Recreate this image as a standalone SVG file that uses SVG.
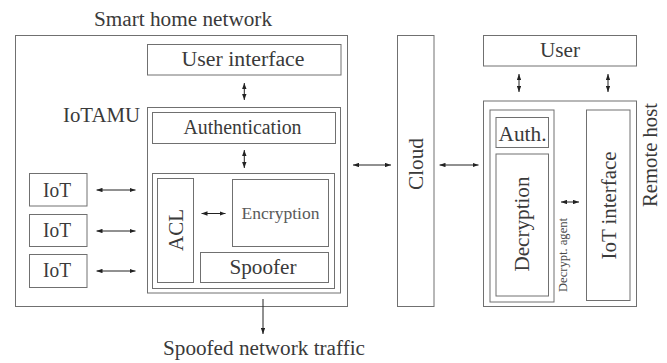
<svg xmlns="http://www.w3.org/2000/svg" width="667" height="363" viewBox="0 0 667 363">
<defs>
<style>
.box{fill:#fff;stroke:#707070;stroke-width:1}
text{font-family:'Liberation Serif','Times New Roman',Times,serif;font-size:20px;fill:#3a3a3a;text-anchor:middle}
.s{font-size:17px;fill:#5a5a5a}
.xs{font-size:12.5px;fill:#4a4a4a}
.a{stroke:#222;stroke-width:1;fill:none;marker-end:url(#ah)}
.d{marker-start:url(#ah)}
</style>
<marker id="ah" viewBox="0 0 6 4.4" refX="6" refY="2.2" markerWidth="6" markerHeight="4.4" markerUnits="userSpaceOnUse" orient="auto-start-reverse">
<path d="M0,0 L6,2.2 L0,4.4 z" fill="#222"/>
</marker>
</defs>
<rect width="667" height="363" fill="#fff"/>
<g font-family="Liberation Serif, serif">
<g id="smart-home">
<rect class="box" x="15.5" y="35.5" width="332" height="271"/>
<text x="183" y="26" textLength="178" lengthAdjust="spacingAndGlyphs">Smart home network</text>
</g>
<g id="user-interface">
<rect class="box" x="147.5" y="44.5" width="193.5" height="30.5"/>
<text x="243" y="66" textLength="123" lengthAdjust="spacingAndGlyphs">User interface</text>
</g>
<g id="iotamu">
<rect class="box" x="147.5" y="107.5" width="193" height="185.5"/>
<text x="101.5" y="122" textLength="77" lengthAdjust="spacingAndGlyphs">IoTAMU</text>
</g>
<g id="authentication">
<rect class="box" x="152.5" y="112.5" width="183" height="31"/>
<text x="242.5" y="134" textLength="118" lengthAdjust="spacingAndGlyphs">Authentication</text>
</g>
<g id="core">
<rect class="box" x="152.5" y="173.5" width="182" height="115"/>
</g>
<g id="acl">
<rect class="box" x="157.5" y="178.5" width="36" height="104"/>
<text transform="translate(175.5,230) rotate(-90)" x="0" y="7" textLength="42" lengthAdjust="spacingAndGlyphs">ACL</text>
</g>
<g id="encryption">
<rect class="box" x="232.5" y="179.5" width="96" height="67"/>
<text class="s" x="280.5" y="219" textLength="78" lengthAdjust="spacingAndGlyphs">Encryption</text>
</g>
<g id="spoofer">
<rect class="box" x="200.5" y="252.5" width="128" height="30"/>
<text x="263" y="274" textLength="67" lengthAdjust="spacingAndGlyphs">Spoofer</text>
</g>
<g id="iot1">
<rect class="box" x="29.5" y="173.5" width="57.5" height="32.5"/>
<text x="57" y="196.5" textLength="28" lengthAdjust="spacingAndGlyphs">IoT</text>
</g>
<g id="iot2">
<rect class="box" x="29.5" y="214.5" width="57.5" height="32"/>
<text x="57" y="237" textLength="28" lengthAdjust="spacingAndGlyphs">IoT</text>
</g>
<g id="iot3">
<rect class="box" x="29.5" y="254.5" width="57.5" height="33"/>
<text x="57" y="277" textLength="28" lengthAdjust="spacingAndGlyphs">IoT</text>
</g>
<g id="spoofed-traffic">
<text x="264" y="355" textLength="202" lengthAdjust="spacingAndGlyphs">Spoofed network traffic</text>
</g>
<g id="cloud">
<rect class="box" x="397.5" y="35.5" width="36.5" height="271"/>
<text transform="translate(416,164) rotate(-90)" x="0" y="7" textLength="52" lengthAdjust="spacingAndGlyphs">Cloud</text>
</g>
<g id="user">
<rect class="box" x="483.5" y="35.5" width="153" height="30.5"/>
<text x="560" y="57" textLength="40" lengthAdjust="spacingAndGlyphs">User</text>
</g>
<g id="remote-host">
<rect class="box" x="483.5" y="101" width="153" height="205.5"/>
<text transform="translate(650,155) rotate(-90)" x="0" y="7" textLength="104" lengthAdjust="spacingAndGlyphs">Remote host</text>
</g>
<g id="decrypt-agent">
<rect class="box" x="490" y="110" width="64" height="192"/>
<text class="xs" transform="translate(562.5,255) rotate(-90)" x="0" y="4.5" textLength="74" lengthAdjust="spacingAndGlyphs">Decrypt. agent</text>
</g>
<g id="auth">
<rect class="box" x="496" y="117.5" width="52.5" height="30"/>
<text x="522.5" y="141" textLength="48" lengthAdjust="spacingAndGlyphs">Auth.</text>
</g>
<g id="decryption">
<rect class="box" x="496" y="154" width="52.5" height="142"/>
<text transform="translate(522,224) rotate(-90)" x="0" y="7" textLength="95" lengthAdjust="spacingAndGlyphs">Decryption</text>
</g>
<g id="iot-interface">
<rect class="box" x="586.5" y="110" width="43.5" height="190.5"/>
<text transform="translate(608.5,205.5) rotate(-90)" x="0" y="7" textLength="108" lengthAdjust="spacingAndGlyphs">IoT interface</text>
</g>
</g>
<g id="connectors">
<line class="a d" x1="244.3" y1="83" x2="244.3" y2="100"/>
<line class="a d" x1="244.3" y1="150" x2="244.3" y2="168"/>
<line class="a d" x1="201.5" y1="213.5" x2="225.5" y2="213.5"/>
<line class="a d" x1="96.5" y1="190" x2="135.5" y2="190"/>
<line class="a d" x1="96.5" y1="231" x2="135.5" y2="231"/>
<line class="a d" x1="96.5" y1="271" x2="135.5" y2="271"/>
<line class="a" x1="263" y1="299" x2="263" y2="334"/>
<line class="a d" x1="353" y1="165" x2="391" y2="165"/>
<line class="a d" x1="439.5" y1="165" x2="478.5" y2="165"/>
<line class="a d" x1="519" y1="74" x2="519" y2="92"/>
<line class="a d" x1="608" y1="74" x2="608" y2="92"/>
<line class="a d" x1="561" y1="202" x2="579" y2="202"/>
</g>
</svg>
